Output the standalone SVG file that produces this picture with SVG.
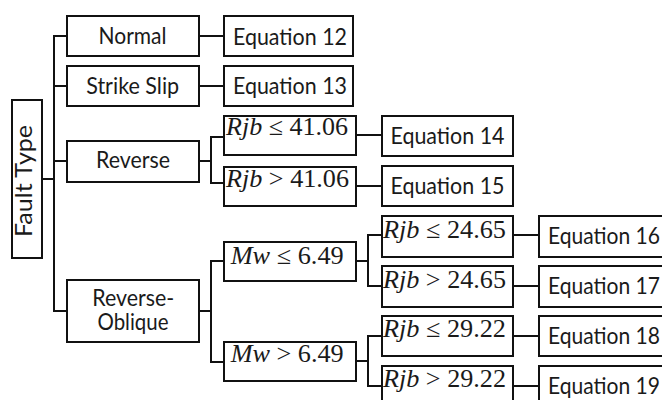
<svg xmlns="http://www.w3.org/2000/svg" width="662" height="400" viewBox="0 0 662 400">
<style>
rect{fill:#fff;stroke:#111;stroke-width:2}
.c line{stroke:#111;stroke-width:2;stroke-linecap:square}
.t{font-family:Lato,"Open Sans","Liberation Sans",sans-serif;font-size:23px;fill:#1a1a1a;text-anchor:middle}
.m{font-family:"Liberation Serif","DejaVu Serif",serif;font-size:25px;fill:#1a1a1a}
.i{font-style:italic}
</style>
<rect x="-10" y="-10" width="700" height="420" style="fill:#fff;stroke:none"/>
<g class="c" id="connectors">
<line x1="42" y1="179" x2="54" y2="179"/>
<line x1="54" y1="36" x2="54" y2="311"/>
<line x1="54" y1="36" x2="67" y2="36"/>
<line x1="54" y1="86" x2="67" y2="86"/>
<line x1="54" y1="161" x2="67" y2="161"/>
<line x1="54" y1="311" x2="67" y2="311"/>
<line x1="199" y1="36" x2="224" y2="36"/>
<line x1="199" y1="86" x2="224" y2="86"/>
<line x1="199" y1="161" x2="211" y2="161"/>
<line x1="211" y1="137" x2="211" y2="183"/>
<line x1="211" y1="137" x2="224" y2="137"/>
<line x1="211" y1="183" x2="224" y2="183"/>
<line x1="356" y1="135" x2="382" y2="135"/>
<line x1="356" y1="186" x2="382" y2="186"/>
<line x1="199" y1="311" x2="211" y2="311"/>
<line x1="211" y1="261" x2="211" y2="362"/>
<line x1="211" y1="261" x2="224" y2="261"/>
<line x1="211" y1="362" x2="224" y2="362"/>
<line x1="356" y1="261" x2="368" y2="261"/>
<line x1="368" y1="235" x2="368" y2="286"/>
<line x1="368" y1="235" x2="382" y2="235"/>
<line x1="368" y1="286" x2="382" y2="286"/>
<line x1="356" y1="361" x2="368" y2="361"/>
<line x1="368" y1="336" x2="368" y2="386"/>
<line x1="368" y1="336" x2="382" y2="336"/>
<line x1="368" y1="386" x2="382" y2="386"/>
<line x1="513" y1="235" x2="539" y2="235"/>
<line x1="513" y1="286" x2="539" y2="286"/>
<line x1="513" y1="336" x2="539" y2="336"/>
<line x1="513" y1="386" x2="539" y2="386"/>
</g>
<g id="fault-type"><rect x="12" y="100" width="30" height="158"/><text class="t" font-size="20" transform="translate(32,181) rotate(-90)" textLength="112" lengthAdjust="spacingAndGlyphs">Fault Type</text></g>
<g id="normal"><rect x="67" y="16" width="132" height="40"/><text class="t" x="132.5" y="44" textLength="68" lengthAdjust="spacingAndGlyphs">Normal</text></g>
<g id="strike-slip"><rect x="67" y="66" width="132" height="40"/><text class="t" x="132.7" y="93.5" textLength="93" lengthAdjust="spacingAndGlyphs">Strike Slip</text></g>
<g id="reverse"><rect x="67" y="141" width="132" height="41"/><text class="t" x="133" y="168" textLength="74" lengthAdjust="spacingAndGlyphs">Reverse</text></g>
<g id="reverse-oblique"><rect x="67" y="280" width="132" height="62"/><text class="t" x="133.3" y="305.5" textLength="82" lengthAdjust="spacingAndGlyphs">Reverse-</text><text class="t" x="133" y="330" textLength="71" lengthAdjust="spacingAndGlyphs">Oblique</text></g>
<g id="eq12"><rect x="224" y="16" width="129" height="40"/><text class="t" x="290" y="44.5" textLength="114" lengthAdjust="spacingAndGlyphs">Equation 12</text></g>
<g id="eq13"><rect x="224" y="66" width="129" height="40"/><text class="t" x="290" y="94" textLength="114" lengthAdjust="spacingAndGlyphs">Equation 13</text></g>
<g id="rjb-le-4106"><rect x="224" y="116" width="132" height="39"/><text class="m" x="226" y="135" textLength="122" lengthAdjust="spacingAndGlyphs"><tspan class="i">Rjb</tspan> ≤ 41.06</text></g>
<g id="rjb-gt-4106"><rect x="224" y="167" width="132" height="39"/><text class="m" x="226" y="187" textLength="123" lengthAdjust="spacingAndGlyphs"><tspan class="i">Rjb</tspan> &gt; 41.06</text></g>
<g id="eq14"><rect x="382" y="116" width="131" height="40"/><text class="t" x="447.5" y="143.5" textLength="114" lengthAdjust="spacingAndGlyphs">Equation 14</text></g>
<g id="eq15"><rect x="382" y="166" width="131" height="40"/><text class="t" x="447.5" y="193.5" textLength="114" lengthAdjust="spacingAndGlyphs">Equation 15</text></g>
<g id="mw-le-649"><rect x="224" y="242" width="132" height="39"/><text class="m" x="230.7" y="263.5" textLength="113" lengthAdjust="spacingAndGlyphs"><tspan class="i">Mw</tspan> ≤ 6.49</text></g>
<g id="mw-gt-649"><rect x="224" y="342" width="132" height="39"/><text class="m" x="230.7" y="362" textLength="113" lengthAdjust="spacingAndGlyphs"><tspan class="i">Mw</tspan> &gt; 6.49</text></g>
<g id="rjb-le-2465"><rect x="382" y="216" width="131" height="41"/><text class="m" x="383" y="238" textLength="123" lengthAdjust="spacingAndGlyphs"><tspan class="i">Rjb</tspan> ≤ 24.65</text></g>
<g id="rjb-gt-2465"><rect x="382" y="266" width="131" height="41"/><text class="m" x="383" y="287.5" textLength="123" lengthAdjust="spacingAndGlyphs"><tspan class="i">Rjb</tspan> &gt; 24.65</text></g>
<g id="rjb-le-2922"><rect x="382" y="316" width="131" height="40"/><text class="m" x="383" y="337" textLength="123" lengthAdjust="spacingAndGlyphs"><tspan class="i">Rjb</tspan> ≤ 29.22</text></g>
<g id="rjb-gt-2922"><rect x="382" y="366" width="131" height="42"/><text class="m" x="383" y="387" textLength="123" lengthAdjust="spacingAndGlyphs"><tspan class="i">Rjb</tspan> &gt; 29.22</text></g>
<g id="eq16"><rect x="539" y="216" width="130" height="41"/><text class="t" x="604" y="243.5" textLength="112" lengthAdjust="spacingAndGlyphs">Equation 16</text></g>
<g id="eq17"><rect x="539" y="266" width="130" height="41"/><text class="t" x="604" y="293.5" textLength="112" lengthAdjust="spacingAndGlyphs">Equation 17</text></g>
<g id="eq18"><rect x="539" y="316" width="130" height="40"/><text class="t" x="604" y="343.5" textLength="112" lengthAdjust="spacingAndGlyphs">Equation 18</text></g>
<g id="eq19"><rect x="539" y="366" width="130" height="42"/><text class="t" x="604" y="393.5" textLength="112" lengthAdjust="spacingAndGlyphs">Equation 19</text></g>
</svg>
